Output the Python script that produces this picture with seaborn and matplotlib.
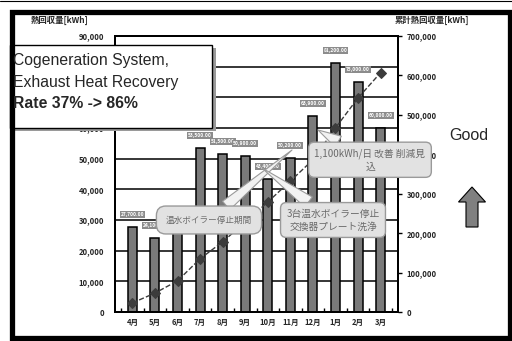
import numpy as np
import pandas as pd
import matplotlib
matplotlib.use('Agg')
import matplotlib.pyplot as plt
import seaborn as sns
from matplotlib.patches import FancyArrow, Rectangle

# 月別 排熱回収量 と 累計
months = ['4月', '5月', '6月', '7月', '8月', '9月', '10月', '11月', '12月', '1月', '2月', '3月']
heat = [27700, 24100, 26000, 53500, 51500, 50900, 43400, 50200, 63900, 81200, 75000, 60000]
cumulative = [23000, 48000, 79000, 135000, 178000, 228000, 279000, 332000, 386000, 467000, 543000, 607000]
bar_labels = ['27,700.00', '24,100.00', '26,000.00', '53,500.00', '51,500.00', '50,900.00',
              '43,400.00', '50,200.00', '63,900.00', '81,200.00', '75,000.00', '60,000.00']
left_ticks = list(range(0, 90001, 10000))
right_ticks = list(range(0, 700001, 100000))

sns.set_theme(style='white')
plt.rcParams['font.family'] = ['Noto Sans CJK JP', 'DejaVu Sans']

W, H = 512, 341
fig = plt.figure(figsize=(W / 100, H / 100), dpi=100)


def px(x, y):
    return (x, H - y)


ax = fig.add_axes([115 / W, 29 / H, 283 / W, 276 / H])
df = pd.DataFrame({'month': months, 'heat': heat})
sns.barplot(data=df, x='month', y='heat', color='#7a7a7a', width=0.4, saturation=1,
            edgecolor='black', linewidth=1.1, ax=ax)
ax.set_ylim(0, 90000)
ax.set_yticks(left_ticks)
ax.set_yticklabels([f'{v:,}' for v in left_ticks])
ax.yaxis.grid(True, color='black', lw=1.1)
ax.set_axisbelow(True)
ax.set_xlabel('')
ax.set_ylabel('')
ax.tick_params(axis='y', length=0, labelsize=5.5, pad=8)
ax.tick_params(axis='x', length=0, labelsize=5.5, pad=4)
ax.set_xticks(np.arange(-0.5, 12), minor=True)
ax.tick_params(axis='x', which='minor', direction='in', length=3, width=1, color='black', bottom=True)
for lab in ax.get_yticklabels() + ax.get_xticklabels():
    lab.set_fontweight('bold')
for s in ax.spines.values():
    s.set_color('black')
    s.set_linewidth(1.4)

# バーの値ラベル
for i, (v, t) in enumerate(zip(heat, bar_labels)):
    ax.annotate(t, xy=(i, v), xytext=(0, 7), textcoords='offset points', ha='center', va='bottom',
                fontsize=3.5, color='white', fontweight='bold',
                bbox=dict(boxstyle='square,pad=0.2', fc='#8c8c8c', ec='none'))

ax2 = ax.twinx()
sns.lineplot(x=np.arange(12), y=cumulative, ax=ax2, color='#3c3c3c', linestyle='--', lw=1,
             marker='D', markersize=5, markeredgecolor='#3c3c3c')
ax2.set_ylim(0, 700000)
ax2.set_yticks(right_ticks)
ax2.set_yticklabels([f'{v:,}' for v in right_ticks])
ax2.tick_params(axis='y', direction='out', length=3, width=1, color='black', labelsize=5.5, pad=3, right=True)
for lab in ax2.get_yticklabels():
    lab.set_fontweight('bold')
for s in ax2.spines.values():
    s.set_color('black')
    s.set_linewidth(1.4)

# 吹き出し
call_kw = dict(xycoords='figure pixels', textcoords='figure pixels', color='#6a6a6a',
               annotation_clip=False)
wedge = dict(arrowstyle='wedge,tail_width=1.3', fc='#f2f2f2', ec='#9a9a9a', lw=0.8, shrinkA=0, shrinkB=0)
ax2.annotate('温水ボイラー停止期間', xy=px(292, 150), xytext=px(209, 220), ha='center', va='center',
             fontsize=6.2, bbox=dict(boxstyle='round,pad=1.1', fc='#e2e2e2', ec='#9a9a9a', lw=1),
             arrowprops=wedge, **call_kw)
ax2.annotate('1,100kWh/日 改善 削減見\n込', xy=px(318, 130), xytext=px(370, 160), ha='center', va='center',
             fontsize=7, bbox=dict(boxstyle='round,pad=0.6', fc='#e2e2e2', ec='#9a9a9a', lw=1),
             arrowprops=wedge, linespacing=1.3, **call_kw)
ax2.annotate('3台温水ボイラー停止\n交換器プレート洗浄', xy=px(262, 168), xytext=px(333, 220), ha='center',
             va='center', fontsize=7, bbox=dict(boxstyle='round,pad=0.6', fc='#e2e2e2', ec='#9a9a9a', lw=1),
             arrowprops=wedge, linespacing=1.4, **call_kw)

# 軸タイトル
fig.text(60 / W, (H - 20) / H, '熱回収量[kWh]', fontsize=6, fontweight='bold', ha='center', va='center')
fig.text(432 / W, (H - 20) / H, '累計熱回収量[kWh]', fontsize=6, fontweight='bold', ha='center', va='center')

# テキストボックス
tr = fig.dpi_scale_trans
fig.add_artist(Rectangle((14 / 100, (H - 131) / 100), 2.02, 0.83, transform=tr, fc='#9a9a9a', ec='none'))
fig.add_artist(Rectangle((10 / 100, (H - 128) / 100), 2.02, 0.83, transform=tr, fc='white', ec='black', lw=1))
fig.text(13 / W, (H - 61) / H, 'Cogeneration System,', fontsize=11.3, family='Liberation Sans', va='center')
fig.text(13 / W, (H - 83) / H, 'Exhaust Heat Recovery', fontsize=11.3, family='Liberation Sans', va='center')
fig.text(13 / W, (H - 104) / H, 'Rate 37% -> 86%', fontsize=11.3, family='Liberation Sans',
         fontweight='bold', va='center')

fig.text(469 / W, (H - 136) / H, 'Good', fontsize=11.5, family='Liberation Sans', ha='center', va='center')
fig.add_artist(FancyArrow(4.72, (H - 227) / 100, 0, 0.40, width=0.12, head_width=0.27, head_length=0.15,
                          length_includes_head=True, fc='#808080', ec='black', lw=0.8, transform=tr))

# 外枠
fig.add_artist(Rectangle((11.5 / 100, 3 / 100), 4.98, 3.26, transform=tr, fill=False, ec='black', lw=3.8))
fig.add_artist(plt.Line2D([0, 1], [(H - 1) / H, (H - 1) / H], color='black', lw=0.8))

fig.savefig('out.png', dpi=100)
